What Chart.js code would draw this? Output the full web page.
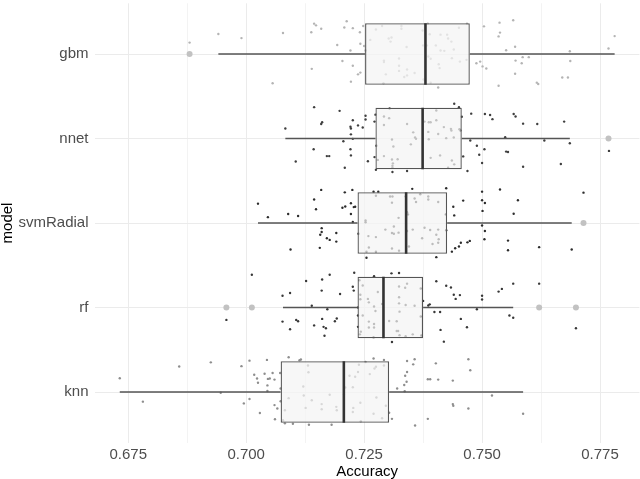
<!DOCTYPE html>
<html>
<head>
<meta charset="utf-8">
<script src="https://cdn.jsdelivr.net/npm/chart.js@4.4.0/dist/chart.umd.min.js"></script>
<style>
  html, body { margin: 0; padding: 0; background: #ffffff; }
  #chart { display: block; }
</style>
</head>
<body>
<canvas id="chart" width="640" height="479"></canvas>
<script>
// models, top to bottom
const models = ["gbm", "nnet", "svmRadial", "rf", "knn"];

// boxplot stats per model
const whiskerLow = [0.6941, 0.7083, 0.7025, 0.7078, 0.6732];
const boxLow = [0.7252, 0.7274, 0.7236, 0.7236, 0.7073];
const medians = [0.7380, 0.7374, 0.7339, 0.7291, 0.7207];
const boxHigh = [0.7474, 0.7457, 0.7426, 0.7375, 0.7303];
const whiskerHigh = [0.7781, 0.7686, 0.7690, 0.7566, 0.7587];

// outliers (model index, accuracy)
const outlierModel = [0, 1, 2, 3, 3, 3, 3];
const outlierValue = [0.6880, 0.7768, 0.7715, 0.6958, 0.7012, 0.7621, 0.7699];

const xTicks = [0.675, 0.6875, 0.7, 0.7125, 0.725, 0.7375, 0.75, 0.7625, 0.775];

// resample accuracies and their vertical jitter (category units, up = positive)
const gbmAcc = [0.6880,0.6941,0.6990,0.7078,0.7056,0.7138,0.7144,0.7148,0.7159,0.7139,0.7193,0.7204,0.7208,0.7213,0.7221,0.7226,0.7226,0.7222,0.7237,0.7242,0.7241,0.7242,0.7248,0.7250,0.7253,0.7263,0.7275,0.7288,0.7292,0.7292,0.7296,0.7291,0.7302,0.7308,0.7306,0.7324,0.7324,0.7324,0.7329,0.7329,0.7340,0.7341,0.7335,0.7341,0.7357,0.7374,0.7375,0.7376,0.7385,0.7383,0.7389,0.7386,0.7391,0.7391,0.7402,0.7407,0.7412,0.7412,0.7408,0.7410,0.7420,0.7426,0.7428,0.7435,0.7440,0.7436,0.7451,0.7453,0.7467,0.7468,0.7488,0.7496,0.7504,0.7501,0.7509,0.7535,0.7537,0.7538,0.7535,0.7551,0.7566,0.7570,0.7571,0.7570,0.7584,0.7586,0.7599,0.7616,0.7619,0.7670,0.7682,0.7686,0.7687,0.7768,0.7781];
const gbmJit = [0.135,0.237,0.188,0.249,-0.347,0.257,0.359,0.339,0.298,-0.176,0.106,-0.082,0.314,0.388,0.041,0.306,-0.139,-0.327,-0.241,-0.220,0.257,0.122,0.331,0.094,0.041,0.167,0.290,0.331,-0.078,-0.094,-0.241,-0.347,0.184,0.196,0.147,-0.053,-0.139,-0.200,0.331,0.298,0.082,-0.184,-0.273,-0.253,-0.224,0.278,0.102,-0.302,0.359,0.102,0.233,-0.029,-0.057,-0.339,0.102,-0.396,0.229,0.041,-0.122,-0.167,0.037,0.229,0.184,0.147,0.053,-0.049,0.310,-0.090,-0.069,0.359,-0.110,-0.090,0.327,-0.147,-0.171,0.208,0.371,0.253,-0.376,0.045,0.400,0.086,-0.078,-0.233,-0.110,-0.037,-0.037,-0.339,-0.355,-0.278,-0.278,0.033,-0.082,0.065,0.212];

const nnetAcc = [0.7083,0.7105,0.7144,0.7143,0.7161,0.7159,0.7171,0.7176,0.7198,0.7206,0.7209,0.7221,0.7222,0.7222,0.7221,0.7222,0.7226,0.7226,0.7237,0.7247,0.7253,0.7253,0.7258,0.7272,0.7272,0.7274,0.7276,0.7275,0.7279,0.7292,0.7292,0.7292,0.7303,0.7304,0.7309,0.7312,0.7309,0.7311,0.7310,0.7310,0.7310,0.7321,0.7341,0.7341,0.7349,0.7354,0.7358,0.7360,0.7378,0.7387,0.7391,0.7386,0.7387,0.7391,0.7403,0.7403,0.7407,0.7411,0.7419,0.7424,0.7434,0.7435,0.7436,0.7440,0.7441,0.7428,0.7441,0.7451,0.7452,0.7454,0.7457,0.7460,0.7469,0.7475,0.7477,0.7489,0.7494,0.7500,0.7505,0.7506,0.7517,0.7522,0.7549,0.7551,0.7555,0.7567,0.7571,0.7587,0.7587,0.7617,0.7632,0.7667,0.7674,0.7686,0.7769];
const nnetJit = [0.118,-0.273,0.371,-0.127,0.192,0.171,-0.208,-0.208,0.327,-0.033,-0.347,0.139,0.118,0.049,-0.127,-0.200,0.216,-0.004,0.155,0.131,0.269,0.224,-0.269,0.200,-0.220,0.282,-0.086,-0.371,-0.253,0.261,0.159,-0.208,0.241,0.355,-0.012,-0.094,-0.249,-0.294,-0.322,-0.347,-0.396,-0.245,0.171,-0.384,-0.069,0.073,0.012,-0.004,0.200,0.192,0.192,0.078,-0.008,-0.229,0.331,0.216,0.053,-0.200,0.135,0.004,0.114,0.094,-0.261,0.012,-0.306,-0.347,0.412,0.371,0.110,0.094,0.257,-0.212,-0.384,-0.024,0.294,-0.086,-0.192,-0.290,-0.127,0.290,0.278,0.229,0.016,-0.155,-0.159,0.290,0.261,0.176,-0.335,0.171,-0.024,-0.302,0.200,-0.057,-0.147];

const svmAcc = [0.7025,0.7046,0.7089,0.7094,0.7110,0.7144,0.7148,0.7156,0.7157,0.7160,0.7160,0.7159,0.7171,0.7177,0.7191,0.7191,0.7204,0.7210,0.7209,0.7222,0.7222,0.7225,0.7226,0.7228,0.7231,0.7238,0.7253,0.7253,0.7255,0.7259,0.7260,0.7255,0.7270,0.7280,0.7275,0.7275,0.7275,0.7295,0.7305,0.7310,0.7309,0.7313,0.7309,0.7313,0.7309,0.7323,0.7323,0.7324,0.7338,0.7341,0.7343,0.7341,0.7345,0.7352,0.7353,0.7357,0.7360,0.7369,0.7373,0.7378,0.7386,0.7386,0.7390,0.7395,0.7403,0.7403,0.7407,0.7407,0.7408,0.7407,0.7423,0.7424,0.7424,0.7436,0.7439,0.7441,0.7443,0.7451,0.7455,0.7460,0.7469,0.7474,0.7500,0.7500,0.7506,0.7501,0.7500,0.7506,0.7505,0.7538,0.7555,0.7555,0.7567,0.7576,0.7621,0.7690,0.7715];
const svmJit = [0.229,0.069,0.106,-0.314,0.082,0.278,0.163,-0.294,-0.139,-0.061,-0.106,0.392,-0.180,-0.200,-0.118,-0.220,0.180,0.196,0.363,0.233,0.106,0.392,0.012,0.188,0.192,-0.127,0.029,0.008,-0.412,-0.155,-0.290,-0.339,0.371,0.371,0.322,-0.167,-0.339,-0.078,0.314,0.314,0.241,-0.041,-0.118,-0.127,-0.302,0.061,-0.114,-0.327,0.314,0.127,0.102,-0.094,-0.278,0.404,-0.078,0.290,0.249,0.339,-0.180,-0.057,0.314,0.278,-0.082,-0.249,-0.139,-0.404,0.249,-0.078,-0.192,-0.233,0.102,-0.086,0.412,-0.339,0.192,0.090,-0.298,-0.278,-0.233,0.265,-0.229,-0.212,0.371,0.269,0.237,0.143,-0.029,-0.094,-0.192,0.396,-0.208,-0.322,0.110,0.269,-0.286,-0.314,0.359];

const rfAcc = [0.6958,0.7012,0.7077,0.7077,0.7093,0.7093,0.7106,0.7110,0.7127,0.7139,0.7144,0.7161,0.7160,0.7161,0.7164,0.7169,0.7166,0.7172,0.7177,0.7188,0.7192,0.7199,0.7226,0.7229,0.7228,0.7237,0.7237,0.7237,0.7240,0.7242,0.7242,0.7243,0.7241,0.7247,0.7247,0.7258,0.7260,0.7260,0.7260,0.7271,0.7271,0.7271,0.7271,0.7274,0.7279,0.7270,0.7288,0.7303,0.7308,0.7309,0.7319,0.7319,0.7322,0.7324,0.7324,0.7324,0.7324,0.7325,0.7325,0.7337,0.7341,0.7338,0.7338,0.7353,0.7357,0.7370,0.7370,0.7375,0.7371,0.7386,0.7389,0.7399,0.7403,0.7411,0.7412,0.7419,0.7424,0.7434,0.7440,0.7444,0.7453,0.7455,0.7468,0.7489,0.7500,0.7500,0.7535,0.7542,0.7558,0.7566,0.7566,0.7621,0.7699];
const rfJit = [-0.147,0.388,0.139,-0.167,0.171,-0.257,-0.147,-0.163,0.314,0.020,-0.212,0.331,0.200,-0.135,-0.229,-0.245,-0.335,-0.020,0.388,-0.163,-0.131,0.159,0.245,0.412,0.200,0.000,-0.094,-0.229,0.322,0.151,0.098,-0.286,-0.318,0.261,-0.094,0.102,0.061,-0.167,-0.237,0.371,0.012,-0.196,-0.237,-0.041,0.184,-0.351,0.041,-0.159,0.404,-0.408,-0.163,-0.278,-0.278,0.408,0.249,0.122,0.049,-0.049,-0.327,0.233,0.282,0.029,-0.339,-0.318,0.020,0.224,-0.106,0.078,-0.331,0.024,0.037,-0.053,0.310,-0.053,-0.265,-0.404,0.257,0.237,0.151,0.102,0.147,-0.135,-0.233,-0.020,0.139,0.094,0.188,0.220,-0.094,0.282,-0.122,0.282,-0.245];

const knnAcc = [0.6732,0.6781,0.6858,0.6925,0.6946,0.6990,0.6995,0.7007,0.7007,0.7017,0.7023,0.7025,0.7029,0.7039,0.7044,0.7046,0.7050,0.7045,0.7045,0.7056,0.7060,0.7060,0.7066,0.7061,0.7072,0.7073,0.7073,0.7078,0.7082,0.7082,0.7090,0.7090,0.7099,0.7113,0.7116,0.7121,0.7122,0.7126,0.7131,0.7132,0.7133,0.7139,0.7160,0.7160,0.7177,0.7181,0.7191,0.7192,0.7207,0.7210,0.7219,0.7226,0.7227,0.7226,0.7231,0.7237,0.7239,0.7242,0.7243,0.7253,0.7262,0.7270,0.7272,0.7275,0.7276,0.7270,0.7288,0.7292,0.7292,0.7296,0.7303,0.7309,0.7320,0.7335,0.7336,0.7337,0.7340,0.7341,0.7341,0.7354,0.7357,0.7358,0.7385,0.7390,0.7385,0.7402,0.7407,0.7438,0.7438,0.7439,0.7471,0.7471,0.7475,0.7521,0.7587];
const knnJit = [0.163,-0.114,0.302,0.351,-0.008,0.306,-0.135,0.371,-0.082,0.204,0.159,0.110,-0.249,0.216,0.380,0.155,0.159,0.078,0.012,0.224,0.147,-0.155,-0.196,-0.322,0.224,0.041,-0.110,-0.335,-0.371,-0.216,0.412,-0.073,-0.376,0.376,0.384,0.065,-0.041,-0.188,0.314,0.233,-0.388,-0.098,-0.143,-0.204,-0.033,-0.388,-0.176,-0.216,-0.029,0.053,0.192,0.057,-0.188,-0.237,0.180,0.237,0.322,-0.127,-0.347,0.355,0.212,0.396,0.278,0.298,-0.065,-0.257,-0.310,0.380,0.314,-0.163,-0.245,-0.318,0.041,0.082,0.008,0.192,0.122,0.237,0.367,0.327,0.388,-0.396,0.151,0.151,-0.318,0.339,0.147,0.135,-0.143,-0.163,0.388,-0.196,0.257,-0.041,-0.257];

const resamples = [[gbmAcc, gbmJit], [nnetAcc, nnetJit], [svmAcc, svmJit], [rfAcc, rfJit], [knnAcc, knnJit]];

const FONT = "'Liberation Sans', Arial, Helvetica, sans-serif";
const pointColors = ["#b4b4b4", "#3f3f3f", "#2c2c2c", "#383838", "#8e8e8e"];
const BOX_HALF = 0.365;

function jitterDatasets() {
  return resamples.map(function (pair, i) {
    return {
      type: "scatter",
      data: pair[0].map((v, k) => ({ x: v, y: i - pair[1][k] })),
      pointRadius: 1.2,
      pointBorderWidth: 0,
      pointBackgroundColor: pointColors[i],
      order: 5,
    };
  });
}

function whiskerData() {
  let out = [];
  models.forEach(function (m, i) {
    out.push({ x: whiskerLow[i], y: i }, { x: boxLow[i], y: i }, { x: null, y: null });
    out.push({ x: boxHigh[i], y: i }, { x: whiskerHigh[i], y: i }, { x: null, y: null });
  });
  return out;
}

function medianData() {
  let out = [];
  models.forEach(function (m, i) {
    out.push({ x: medians[i], y: i - BOX_HALF }, { x: medians[i], y: i + BOX_HALF }, { x: null, y: null });
  });
  return out;
}

// drop the label overflow padding so the plot panel keeps its own edges
function noPadding(s) {
  s.paddingTop = 0;
  s.paddingBottom = 0;
  s.paddingLeft = 0;
  s.paddingRight = 0;
}

function init() {
  const ctx = document.getElementById("chart");
  const datasets = jitterDatasets();

  datasets.push({
    type: "bar",
    indexAxis: "y",
    data: models.map((m, i) => ({ x: [boxLow[i], boxHigh[i]], y: i })),
    backgroundColor: "rgba(244,244,244,0.72)",
    borderColor: "#555555",
    borderWidth: 1.3,
    borderSkipped: false,
    barPercentage: 1,
    categoryPercentage: 0.73,
    order: 3,
  });
  datasets.push({
    type: "scatter",
    data: whiskerData(),
    showLine: true,
    spanGaps: false,
    borderColor: "#555555",
    borderWidth: 1.3,
    pointRadius: 0,
    order: 4,
  });
  datasets.push({
    type: "scatter",
    data: medianData(),
    showLine: true,
    spanGaps: false,
    borderColor: "#333333",
    borderWidth: 2.6,
    pointRadius: 0,
    order: 2,
  });
  datasets.push({
    type: "scatter",
    data: outlierValue.map((v, k) => ({ x: v, y: outlierModel[k] })),
    pointRadius: 3,
    pointBorderWidth: 0,
    pointBackgroundColor: "#c2c2c2",
    order: 1,
  });

  new Chart(ctx, {
    type: "scatter",
    data: { datasets: datasets },
    options: {
      responsive: false,
      animation: false,
      devicePixelRatio: 1,
      layout: { autoPadding: false, padding: { top: 3.3, right: 0.6, left: 0, bottom: 0 } },
      plugins: { legend: { display: false }, tooltip: { enabled: false } },
      scales: {
        x: {
          type: "linear",
          min: 0.66795,
          max: 0.78335,
          offset: false,
          afterBuildTicks: (s) => { s.ticks = xTicks.map((v) => ({ value: v })); },
          afterFit: (s) => { s.height = 36.3; noPadding(s); },
          border: { display: false },
          grid: {
            offset: false,
            drawTicks: false,
            color: (c) => (c.index % 2 === 0 ? "#ebebeb" : "#f3f3f3"),
            lineWidth: 1,
          },
          ticks: {
            autoSkip: false,
            maxRotation: 0,
            padding: 3,
            color: "#4d4d4d",
            font: { family: FONT, size: 15 },
            callback: (v, i) => (i % 2 === 0 ? v.toFixed(3) : ""),
          },
          title: {
            display: true,
            text: "Accuracy",
            color: "#000000",
            padding: 0,
            font: { family: FONT, size: 15, lineHeight: 1 },
          },
        },
        y: {
          type: "linear",
          reverse: true,
          min: -0.6,
          max: 4.6,
          offset: false,
          afterBuildTicks: (s) => { s.ticks = models.map((m, i) => ({ value: i })); },
          afterFit: (s) => { s.width = 95; noPadding(s); },
          border: { display: false },
          grid: { offset: false, drawTicks: false, color: "#ebebeb", lineWidth: 1 },
          ticks: {
            padding: 6.5,
            color: "#4d4d4d",
            font: { family: FONT, size: 15 },
            callback: (v) => models[v],
          },
          title: {
            display: true,
            text: "model",
            color: "#000000",
            padding: 0,
            font: { family: FONT, size: 15, lineHeight: 1 },
          },
        },
      },
    },
  });
}

window.onload = init;
</script>
</body>
</html>
